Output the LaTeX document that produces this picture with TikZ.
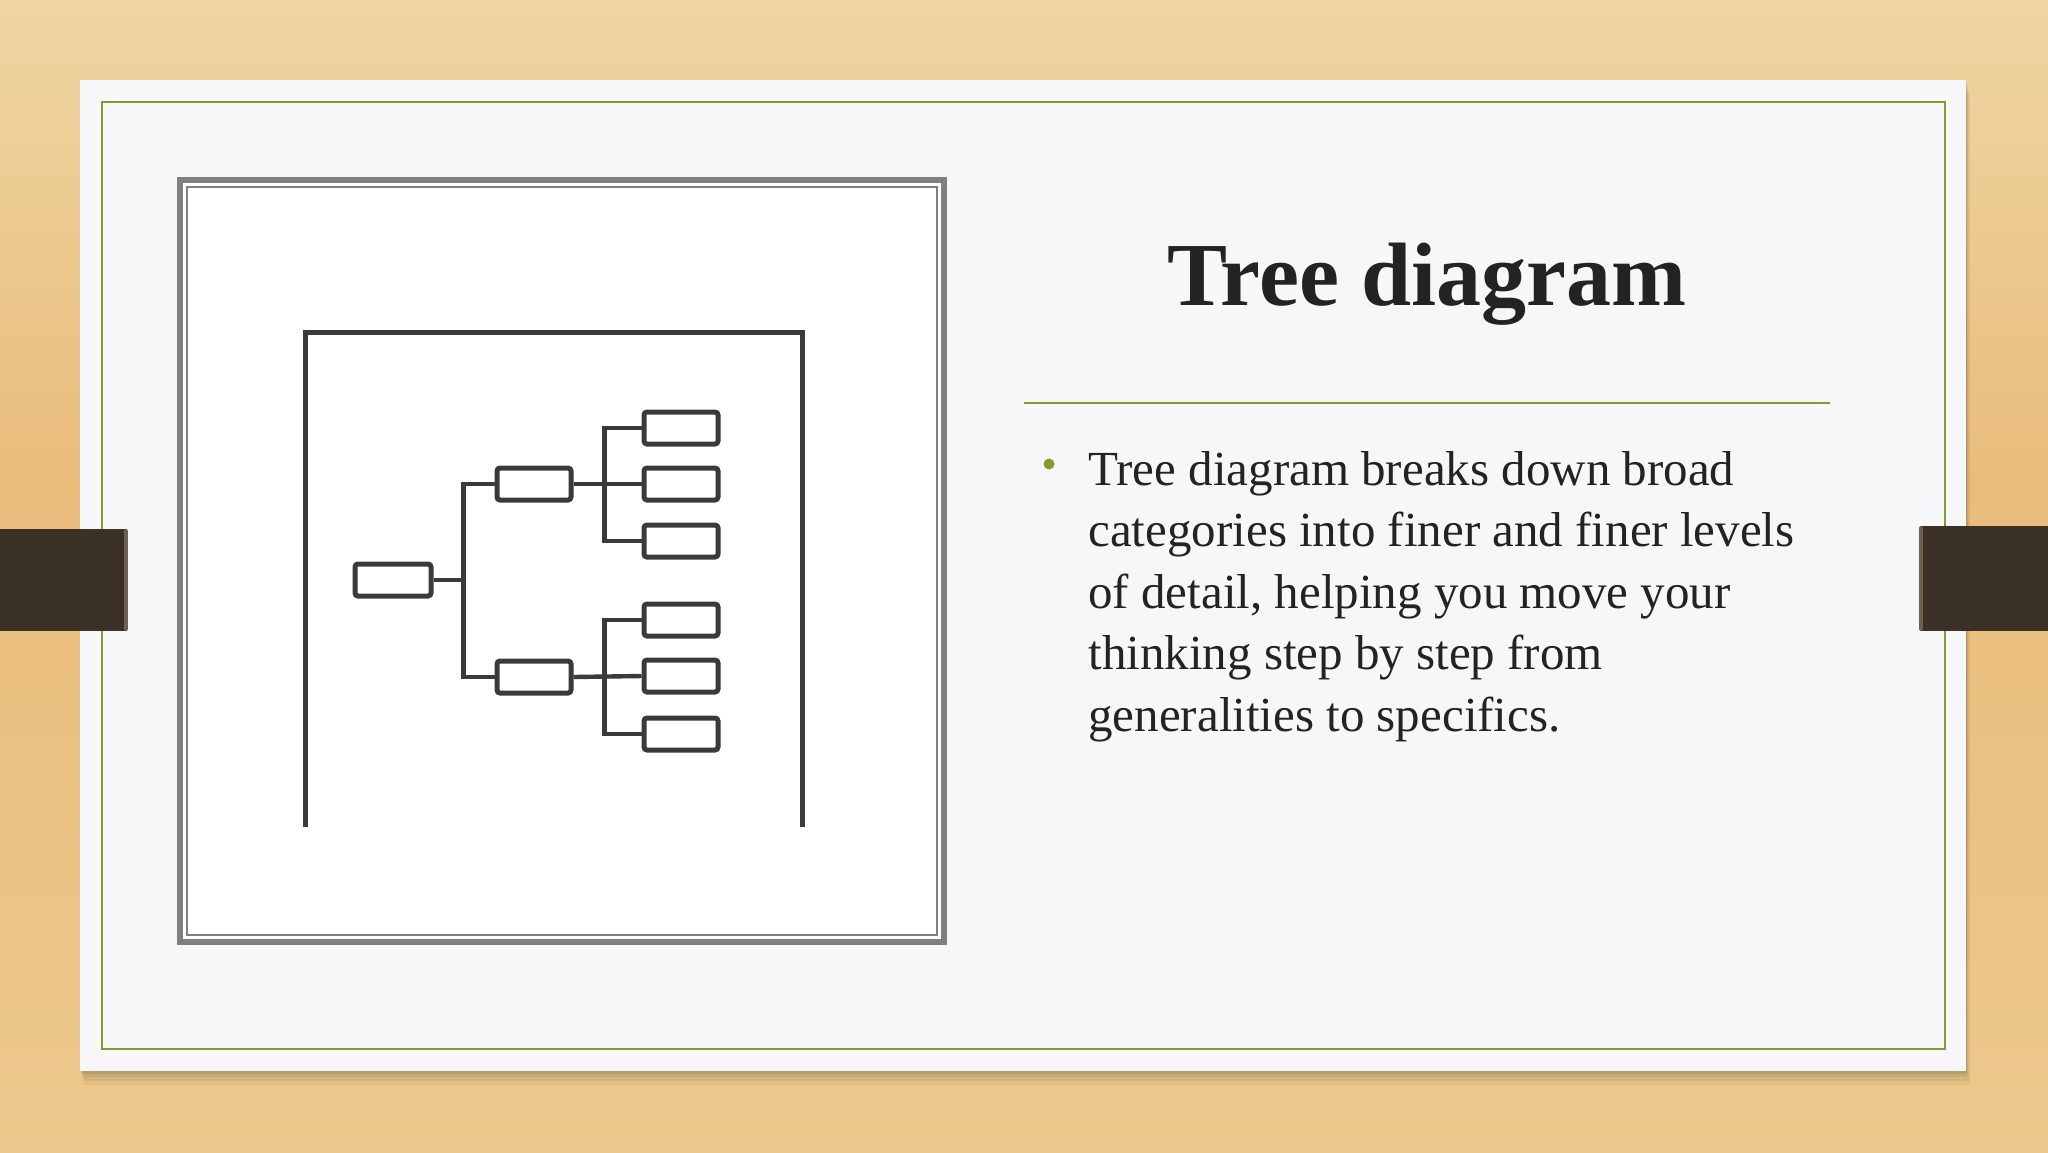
\documentclass[tikz,border=0pt]{standalone}
\usepackage{fontspec}
\setmainfont{Liberation Serif}
\definecolor{woodA}{RGB}{238,214,162}
\definecolor{woodB}{RGB}{233,188,124}
\definecolor{woodC}{RGB}{236,200,140}
\definecolor{card}{RGB}{247,247,249}
\definecolor{olive}{RGB}{128,156,42}
\definecolor{tab}{RGB}{58,48,38}
\definecolor{tabedge}{RGB}{110,96,76}
\definecolor{framegray}{RGB}{128,128,130}
\definecolor{treeline}{RGB}{58,58,58}
\definecolor{ink}{RGB}{36,34,34}
\tikzset{
  treebox/.style={draw=treeline, line width=2.5pt, rounded corners=1.5pt, fill=white,
    minimum width=37pt, minimum height=16pt, inner sep=0pt},
  treelink/.style={draw=treeline, line width=2.2pt},
}
\begin{document}
\begin{tikzpicture}[x=0.5pt,y=-0.5pt]
\useasboundingbox (0,0) rectangle (2048,1152);
% wood background
\shade[top color=woodA, bottom color=woodB] (0,0) rectangle (2048,480);
\shade[top color=woodB, bottom color=woodC] (0,480) rectangle (2048,1152);
% card shadow
\foreach \d/\o in {14/0.04,10/0.05,6/0.06,3/0.08}
  \fill[black, opacity=\o] (80+\d*0.3,80+\d) rectangle (1966+\d*0.3,1071+\d);
% card
\fill[card] (80,80) rectangle (1966,1071);
\draw[olive, line width=1.2pt] (102,102) rectangle (1945,1049);
% tabs
\fill[tab] (0,529) rectangle (127,631);
\draw[tabedge, line width=2pt, line cap=round] (126,531) -- (126,629);
\fill[tab] (1920,526) rectangle (2048,631);
\draw[tabedge, line width=2pt, line cap=round] (1921,528) -- (1921,629);
% picture frame
\fill[white] (177,177) rectangle (947,945);
\draw[framegray, line width=3pt] (180,180) rectangle (944,942);
\draw[framegray, line width=0.8pt] (187,187) rectangle (937,935);
% tree image frame
\draw[treeline, line width=2.5pt] (305,827) -- (305,332) -- (802,332) -- (802,827);
% tree nodes
\node[treebox, minimum width=38pt] (root) at (393,580) {};
\node[treebox] (m1) at (534,484) {};
\node[treebox] (m2) at (534,677) {};
\node[treebox] (l1) at (681,428) {};
\node[treebox] (l2) at (681,484) {};
\node[treebox] (l3) at (681,541) {};
\node[treebox] (l4) at (681,620) {};
\node[treebox] (l5) at (681,676) {};
\node[treebox] (l6) at (681,734) {};
% connectors
\draw[treelink] (root.east) -- ++(30,0) |- (m1.west);
\draw[treelink] (root.east) -- ++(30,0) |- (m2.west);
\draw[treelink] (m1.east) -- ++(31,0) |- (l1.west);
\draw[treelink] (m1.east) -- (l2.west);
\draw[treelink] (m1.east) -- ++(31,0) |- (l3.west);
\draw[treelink] (m2.east) -- ++(31,0) |- (l4.west);
\draw[treelink] (m2.east) -- (l5.west);
\draw[treelink] (m2.east) -- ++(31,0) |- (l6.west);
% title
\node[anchor=base, text=ink, font=\fontsize{45pt}{50pt}\selectfont\bfseries, inner sep=0pt] (title) at (1427,305) {Tree diagram};
\draw[olive, line width=1.2pt] (1024,403) -- (1830,403);
% bullet
\node[circle, fill=olive, inner sep=0pt, minimum size=5.5pt] (bullet) at (1049,464) {};
\node[anchor=base west, text=ink, inner sep=0pt, align=left,
  font=\fontsize{24.5pt}{30.7pt}\selectfont] (body) at (1088,731)
  {Tree diagram breaks down broad\\
   categories into finer and finer levels\\
   of detail, helping you move your\\
   thinking step by step from\\
   generalities to specifics.};
\end{tikzpicture}
\end{document}
